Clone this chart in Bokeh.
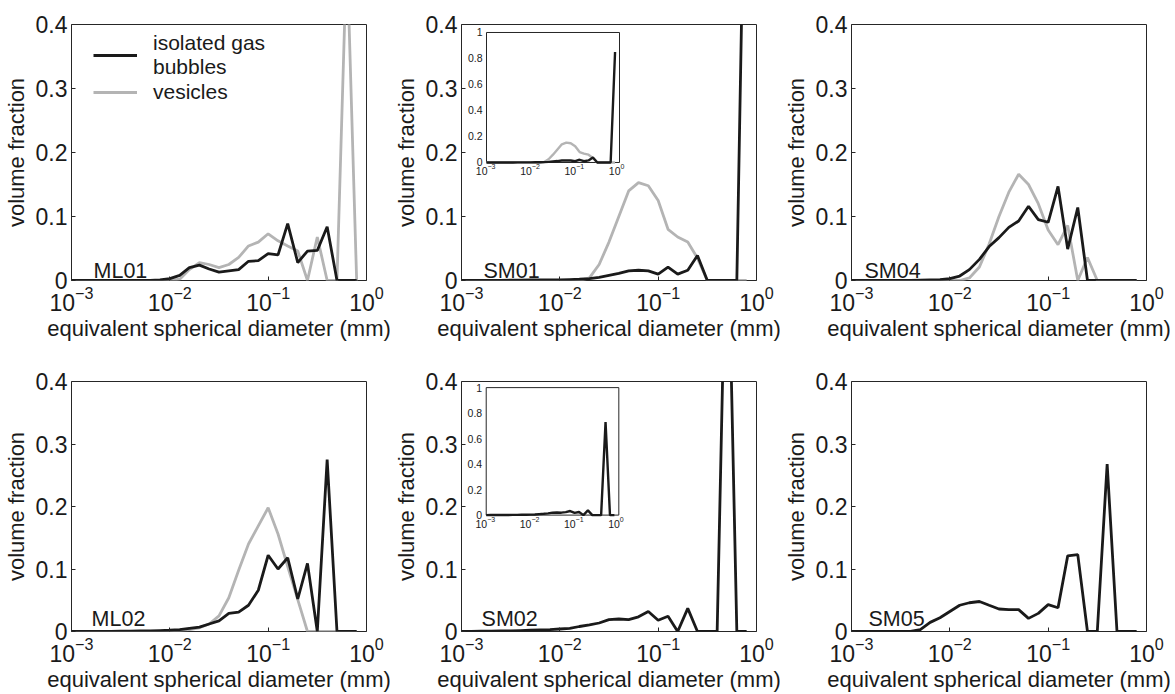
from bokeh.plotting import figure
from bokeh.layouts import column, row
from bokeh.models import Range1d, LogScale, FixedTicker, Label, Legend, LegendItem
from bokeh.embed import file_html
from bokeh.resources import INLINE
from bokeh.core.properties import value

# ---------------- data ----------------
diam_mm = [0.00100, 0.00126, 0.00158, 0.00200, 0.00251, 0.00316, 0.00398, 0.00501, 0.00631, 0.00794,
           0.0100, 0.0126, 0.0158, 0.0200, 0.0251, 0.0316, 0.0398, 0.0501, 0.0631, 0.0794,
           0.100, 0.126, 0.158, 0.200, 0.251, 0.316, 0.398, 0.501, 0.631, 0.794]

x_ticks = [0.001, 0.01, 0.1, 1.0]
x_exponents = ["\u22123", "\u22122", "\u22121", "0"]
y_ticks = [0, 0.1, 0.2, 0.3, 0.4]
y_tick_labels = ["0", "0.1", "0.2", "0.3", "0.4"]
inset_x_lim = [0.001, 1.0]
inset_y_lim = [0, 1.0]
inset_y_ticks = [0, 0.2, 0.4, 0.6, 0.8, 1.0]
inset_y_tick_labels = ["0", "0.2", "0.4", "0.6", "0.8", "1"]

ml01_gas = [0, 0, 0, 0, 0, 0, 0, 0, 0, 0.001,
            0.003, 0.008, 0.020, 0.024, 0.018, 0.013, 0.015, 0.017, 0.030, 0.031,
            0.042, 0.040, 0.089, 0.028, 0.046, 0.047, 0.084, 0, 0, 0]
ml01_ves = [0, 0, 0, 0, 0, 0, 0, 0, 0, 0,
            0, 0.002, 0.017, 0.028, 0.025, 0.020, 0.025, 0.036, 0.054, 0.060,
            0.073, 0.062, 0.054, 0.046, 0, 0.068, 0, 0, 0.52, 0]

sm01_gas = [0, 0, 0, 0, 0, 0.0005, 0.0005, 0.001, 0.001, 0.001,
            0.001, 0.0015, 0.002, 0.003, 0.005, 0.008, 0.011, 0.015, 0.016, 0.015,
            0.010, 0.021, 0.010, 0.016, 0.039, 0, 0, 0, 0, 0.85]
sm01_ves = [0, 0, 0, 0, 0, 0, 0, 0, 0, 0,
            0, 0, 0, 0.004, 0.025, 0.060, 0.100, 0.140, 0.153, 0.148,
            0.125, 0.080, 0.068, 0.060, 0.035, 0, 0, 0, 0, 0]

sm04_gas = [0, 0, 0, 0, 0, 0, 0, 0.0005, 0.001, 0.0015,
            0.003, 0.007, 0.017, 0.033, 0.053, 0.067, 0.083, 0.093, 0.116, 0.095,
            0.091, 0.147, 0.049, 0.114, 0, 0, 0, 0, 0, 0]
sm04_ves = [0, 0, 0, 0, 0, 0, 0, 0, 0, 0,
            0, 0, 0.004, 0.021, 0.057, 0.100, 0.138, 0.166, 0.150, 0.120,
            0.079, 0.056, 0.086, 0, 0.036, 0, 0, 0, 0, 0]

ml02_gas = [0, 0, 0, 0, 0, 0.0005, 0.0005, 0.001, 0.001, 0.0015,
            0.002, 0.003, 0.005, 0.007, 0.012, 0.017, 0.029, 0.031, 0.042, 0.066,
            0.122, 0.100, 0.118, 0.052, 0.109, 0, 0.275, 0, 0, 0]
ml02_ves = [0, 0, 0, 0, 0, 0, 0, 0, 0, 0,
            0.001, 0.002, 0.003, 0.006, 0.012, 0.025, 0.054, 0.098, 0.140, 0.169,
            0.198, 0.156, 0.104, 0.051, 0, 0, 0, 0, 0, 0]

sm02_gas = [0, 0.0003, 0.0005, 0.0007, 0.001, 0.001, 0.0015, 0.002, 0.0025, 0.003,
            0.004, 0.005, 0.008, 0.0105, 0.0136, 0.019, 0.020, 0.019, 0.0235, 0.032,
            0.018, 0.0245, 0, 0.037, 0, 0, 0, 0.73, 0, 0]

sm05_gas = [0, 0, 0, 0, 0, 0, 0, 0.003, 0.0146, 0.022,
            0.032, 0.042, 0.046, 0.048, 0.042, 0.036, 0.035, 0.035, 0.021, 0.029,
            0.043, 0.038, 0.121, 0.123, 0, 0, 0.268, 0, 0, 0]

# ---------------- style ----------------
FONT = "Liberation Sans"
BLACK = "#1a1a1a"
GRAY = "#b4b4b4"
LW = 2.8


def make_panel(name, gas, ves, top, name_dx, name_y, legend=False, inset=None):
    frame_h = 256 if top else 255
    h = 357 if top else 337
    p = figure(width=390, height=h, x_axis_type="log",
               x_range=Range1d(1e-3, 1.0), y_range=Range1d(0, 0.4),
               output_backend="svg", toolbar_location=None,
               min_border_left=71, min_border_right=24, min_border_top=24,
               min_border_bottom=h - 24 - frame_h)
    p.grid.visible = False
    p.background_fill_color = "white"
    p.border_fill_color = "white"
    p.outline_line_color = "#262626"
    p.outline_line_width = 1
    p.outline_line_alpha = 1

    p.xaxis.ticker = FixedTicker(ticks=x_ticks, minor_ticks=[])
    p.yaxis.ticker = FixedTicker(ticks=y_ticks, minor_ticks=[])
    p.yaxis.major_label_overrides = dict(zip(y_ticks, y_tick_labels))
    for ax in (p.xaxis[0], p.yaxis[0]):
        ax.axis_line_color = None
        ax.major_tick_in = 4
        ax.major_tick_out = 0
        ax.major_tick_line_color = "#262626"
        ax.minor_tick_line_color = None
        ax.major_label_text_font = FONT
        ax.major_label_text_font_size = "23px"
        ax.major_label_text_color = BLACK
        ax.axis_label_text_font = FONT
        ax.axis_label_text_font_size = "22px"
        ax.axis_label_text_font_style = "normal"
        ax.axis_label_text_color = BLACK
    p.xaxis.axis_label = "equivalent spherical diameter (mm)"
    p.yaxis.axis_label = "volume fraction"
    p.xaxis.major_label_standoff = 5
    p.xaxis.axis_label_standoff = 2
    p.yaxis.major_label_standoff = 4
    p.yaxis.axis_label_standoff = 4

    rg = None
    if ves is not None:
        rg = p.line(diam_mm, ves, line_color=GRAY, line_width=LW)
    rb = p.line(diam_mm, gas, line_color=BLACK, line_width=LW)

    p.add_layout(Label(x=10 ** (-3 + name_dx), y=name_y, text=name,
                       text_font=FONT, text_font_size="21.5px", text_color=BLACK,
                       text_baseline="alphabetic"))

    if legend:
        lg = Legend(items=[LegendItem(label="isolated gas\nbubbles", renderers=[rb]),
                           LegendItem(label="vesicles", renderers=[rg])],
                    location=(22, 176), glyph_width=44, glyph_height=20,
                    label_standoff=16, label_text_font=FONT, label_text_font_size="21px",
                    label_text_line_height=1.12,
                    label_text_color=BLACK, spacing=1, padding=0, margin=0,
                    border_line_color=None, background_fill_alpha=0)
        p.add_layout(lg)

    if inset is not None:
        xr, yr, series = inset
        p.extra_x_ranges = {"ix": Range1d(10 ** xr[0], 10 ** xr[1])}
        p.extra_x_scales = {"ix": LogScale()}
        p.extra_y_ranges = {"iy": Range1d(yr[0], yr[1])}
        kw = dict(x_range_name="ix", y_range_name="iy")
        p.quad(left=[inset_x_lim[0]], right=[inset_x_lim[1]],
               bottom=[inset_y_lim[0]], top=[inset_y_lim[1]],
               fill_color="white", line_color="#262626", line_width=1, **kw)
        for ys, col in series:
            p.line(diam_mm, ys, line_color=col, line_width=2.4, **kw)
        p.text(x=[inset_x_lim[0]] * len(inset_y_ticks), y=inset_y_ticks, text=inset_y_tick_labels,
               text_align="right", text_baseline="middle", x_offset=-4,
               text_font=value(FONT), text_font_size="10.5px", text_color=BLACK, **kw)
        p.text(x=x_ticks, y=[inset_y_lim[0]] * 4, text=["10"] * 4,
               text_align="right", text_baseline="top", y_offset=5, x_offset=1,
               text_font=value(FONT), text_font_size="10.5px", text_color=BLACK, **kw)
        p.text(x=x_ticks, y=[inset_y_lim[0]] * 4, text=x_exponents,
               text_align="left", text_baseline="top", y_offset=2, x_offset=1,
               text_font=value(FONT), text_font_size="7px", text_color=BLACK, **kw)
    return p


p1 = make_panel("ML01", ml01_gas, ml01_ves, True, 0.224, 0.0156, legend=True)
p2 = make_panel("SM01", sm01_gas, sm01_ves, True, 0.224, 0.0156,
                inset=((-3.564, 3.090), (-0.9077, 1.0615),
                       [(sm01_ves, GRAY), (sm01_gas, BLACK)]))
p3 = make_panel("SM04", sm04_gas, sm04_ves, True, 0.132, 0.0156)
p4 = make_panel("ML02", ml02_gas, ml02_ves, False, 0.204, 0.0204)
p5 = make_panel("SM02", sm02_gas, None, False, 0.204, 0.0204,
                inset=((-3.559, 3.115), (-0.913, 1.048), [(sm02_gas, BLACK)]))
p6 = make_panel("SM05", sm05_gas, None, False, 0.173, 0.0204)

layout = column(row(p1, p2, p3), row(p4, p5, p6))
open("out.html", "w").write(file_html(layout, INLINE))
